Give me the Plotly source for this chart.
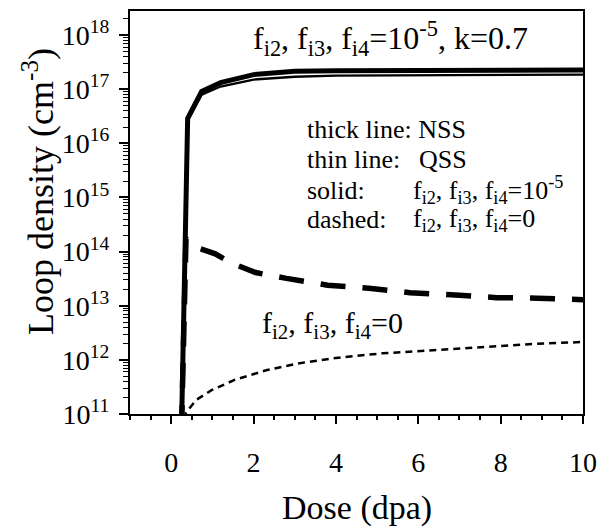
import plotly.graph_objects as go

# ---- data ----
dose_nss_solid = [0.25, 0.40, 0.74, 1.2, 2.0, 3.0, 4.0, 6.0, 8.0, 10.0]
dens_nss_solid = [5e10, 2.9e16, 9.1e16, 1.32e17, 1.86e17, 2.14e17, 2.2e17, 2.24e17, 2.26e17, 2.27e17]

dose_qss_solid = [0.25, 0.40, 0.74, 1.2, 2.0, 3.0, 4.0, 6.0, 8.0, 10.0]
dens_qss_solid = [5e10, 2.6e16, 7.9e16, 1.12e17, 1.51e17, 1.7e17, 1.78e17, 1.82e17, 1.85e17, 1.86e17]

dose_nss_dash = [0.25, 0.36, 0.6, 1.07, 1.45, 2.05, 2.8, 3.8, 4.8, 5.8, 6.9, 7.9, 8.9, 10.0]
dens_nss_dash = [5e10, 1.74e14, 1.2e14, 9.1e13, 6.2e13, 4.1e13, 3.2e13, 2.4e13, 2.1e13,
                 1.74e13, 1.58e13, 1.41e13, 1.38e13, 1.29e13]

dose_qss_dash = [0.33, 0.36, 0.6, 0.98, 1.55, 2.33, 3.12, 3.93, 5.12, 6.31, 7.5, 8.69, 10.0]
dens_qss_dash = [8e10, 1.05e11, 1.8e11, 2.75e11, 4.3e11, 6.5e11, 8.7e11, 1.07e12, 1.32e12,
                 1.51e12, 1.7e12, 1.95e12, 2.14e12]

x_ticks = [0, 2, 4, 6, 8, 10]
y_exps = [11, 12, 13, 14, 15, 16, 17, 18]
y_tickvals = [10.0 ** e for e in y_exps]
y_ticktext = ["10<sup>%d</sup>" % e for e in y_exps]

FONT = "Times New Roman"

fig = go.Figure()
fig.add_trace(go.Scatter(x=dose_nss_dash, y=dens_nss_dash, mode="lines",
                         line=dict(color="black", width=5.5, dash="25px,17px"),
                         showlegend=False))
fig.add_trace(go.Scatter(x=dose_qss_dash, y=dens_qss_dash, mode="lines",
                         line=dict(color="black", width=2.5, dash="7px,5px"),
                         showlegend=False))
fig.add_trace(go.Scatter(x=dose_nss_solid, y=dens_nss_solid, mode="lines",
                         line=dict(color="black", width=5), showlegend=False))
fig.add_trace(go.Scatter(x=dose_qss_solid, y=dens_qss_solid, mode="lines",
                         line=dict(color="black", width=2.3), showlegend=False))

L, R, T, B = 130, 592, 9, 414
W, H = 606, 529


def px_x(p):
    return (p - L) / (R - L)


def px_y(p):
    return (B - p) / (B - T)


fig.update_layout(
    width=W, height=H, autosize=False,
    margin=dict(l=L, r=W - R, t=T, b=H - B),
    paper_bgcolor="white", plot_bgcolor="rgba(0,0,0,0)",
    font=dict(family=FONT, color="black"),
    xaxis=dict(range=[-1, 10], tickmode="array", tickvals=x_ticks, ticks="outside",
               ticklen=8, tickwidth=2, tickcolor="black",
               minor=dict(dtick=0.5, ticks="outside", ticklen=4, tickwidth=1.5,
                          tickcolor="black"),
               showline=True, linewidth=2, linecolor="black", mirror=True,
               showgrid=False, zeroline=False, ticklabelstandoff=14,
               tickfont=dict(size=28, family=FONT)),
    yaxis=dict(type="log", range=[11, 18.445], tickmode="array", tickvals=y_tickvals,
               ticktext=y_ticktext,
               ticks="outside", ticklen=9, tickwidth=2, tickcolor="black",
               minor=dict(dtick="D1", ticks="outside", ticklen=5, tickwidth=1.3,
                          tickcolor="black"),
               showline=True, linewidth=2, linecolor="black", mirror=True,
               showgrid=False, zeroline=False, ticklabelstandoff=4,
               tickfont=dict(size=28, family=FONT)),
)

ann = []


def add(text, xp, yp, size, xanchor="left", angle=0):
    ann.append(dict(text=text, x=px_x(xp), y=px_y(yp), xref="paper", yref="paper",
                    xanchor=xanchor, yanchor="middle", showarrow=False, textangle=angle,
                    font=dict(size=size, family=FONT, color="black")))


fsub = "f<sub>i2</sub>, f<sub>i3</sub>, f<sub>i4</sub>"
add(fsub + "=10<sup>-5</sup>, k=0.7", 253, 37, 32)
add("thick line: NSS", 308, 128, 26)
add("thin line:", 308, 158, 26)
add("QSS", 423, 158, 26)
add("solid:", 308, 189, 26)
add(fsub + "=10<sup>-5</sup>", 417, 189, 26)
add("dashed:", 308, 219, 26)
add(fsub + "=0", 417, 219, 26)
add(fsub + "=0", 263, 325, 30)
add("Dose (dpa)", 361, 508, 34, xanchor="center")
add("Loop density (cm<sup>-3</sup>)", 36, 190, 36, xanchor="center", angle=-90)
fig.update_layout(annotations=ann)

fig.write_html("out.html")
